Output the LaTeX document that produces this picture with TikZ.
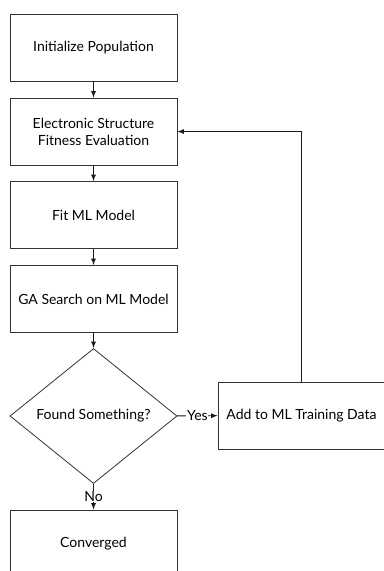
\documentclass[tikz,border=0pt]{standalone}
\usepackage{fontspec}
\setmainfont{Lato}
\usetikzlibrary{shapes.geometric}

\begin{document}
\begin{tikzpicture}[x=0.75pt, y=-0.75pt,
	box/.style={draw=black!80, line width=0.6pt, minimum width=125.25pt, minimum height=50.25pt, align=center, font=\fontsize{10.5}{12.75}\selectfont},
	flow/.style={draw=black!90, line width=0.7pt, arrows={-latex}}]
	\useasboundingbox (0,0) rectangle (383,571);
	\node [box] (init) at (93.5,47.5) {Initialize Population};
	\node [box] (eval) at (93.5,131.5) {Electronic Structure\\Fitness Evaluation};
	\node [box] (fit) at (93.5,215) {Fit ML Model};
	\node [box] (ga) at (93.5,299) {GA Search on ML Model};
	\node [box, diamond, minimum width=125.25pt, minimum height=101.25pt, inner sep=0pt] (found) at (93.5,416) {Found Something?};
	\node [box] (add) at (301.5,415.5) {Add to ML Training Data};
	\node [box] (conv) at (93.5,543.5) {Converged};
	\draw [flow] (init) -- (eval);
	\draw [flow] (eval) -- (fit);
	\draw [flow] (fit) -- (ga);
	\draw [flow] (ga) -- (found);
	\draw [flow] (found) -- node [fill=white, inner sep=0.5pt, font=\fontsize{10.5}{12}\selectfont] {Yes} (add);
	\draw [flow] (found) -- node [fill=white, inner sep=0.5pt, font=\fontsize{10.5}{12}\selectfont] {No} (conv);
	\draw [flow] (add.north) |- (eval.east);
\end{tikzpicture}
\end{document}
